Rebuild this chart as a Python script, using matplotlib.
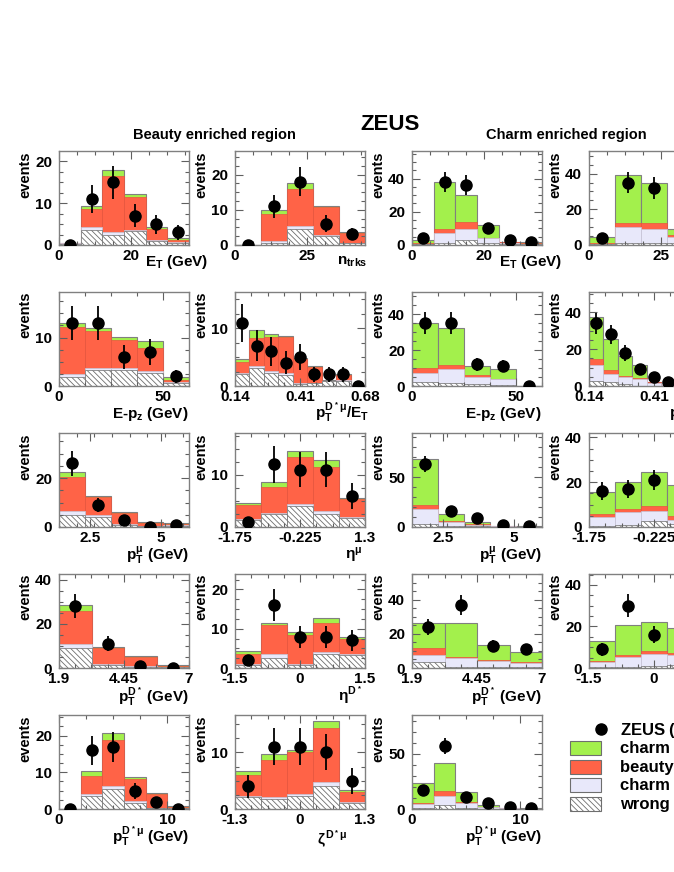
import matplotlib
matplotlib.use('Agg')
import matplotlib.pyplot as plt
import numpy as np
from matplotlib.ticker import FixedLocator, FixedFormatter
from matplotlib.patches import Rectangle

plt.rcParams['font.family'] = ['Liberation Sans', 'DejaVu Sans']
plt.rcParams['font.weight'] = 'bold'
plt.rcParams['mathtext.fontset'] = 'custom'
plt.rcParams['mathtext.rm'] = 'Liberation Sans:bold'
plt.rcParams['mathtext.it'] = 'Liberation Sans:bold'
plt.rcParams['mathtext.bf'] = 'Liberation Sans:bold'
plt.rcParams['hatch.linewidth'] = 0.6

GREEN = '#a3f04c'
RED = '#ff6347'
LAV = '#e8e8fa'
GREY = '#808080'

# stacked levels per bin: tot = top of green (charm), b = top of red (beauty),
# c2 = top of lavender (charm), wc = top of hatched (wrong charge)

# ---- beauty enriched region ----
bET_tot = [0.5, 9.4, 17.9, 12.1, 4.2, 1.6]
bET_b = [0.4, 8.7, 16.4, 11.5, 3.9, 1.2]
bET_c2 = [0.4, 4.4, 3.2, 3.7, 1.2, 0.7]
bET_wc = [0.3, 3.7, 2.4, 3.25, 1.0, 0.55]
bET_data = [0, 11, 15, 7, 5, 3]
bET_err = [0, 3.3, 3.9, 2.7, 2.3, 1.7]

bNT_tot = [0.1, 9.9, 17.6, 11.0, 3.8]
bNT_b = [0.1, 8.8, 15.9, 10.7, 3.3]
bNT_c2 = [0.05, 1.2, 5.5, 2.8, 0.66]
bNT_wc = [0.05, 0.7, 4.5, 2.5, 0.5]
bNT_data = [0, 11, 18, 6, 3]
bNT_err = [0, 3.3, 4.2, 2.4, 1.7]

bEPZ_tot = [13.1, 12.0, 10.1, 9.3, 1.8]
bEPZ_b = [12.2, 11.4, 9.5, 7.9, 1.15]
bEPZ_c2 = [2.4, 3.7, 3.7, 3.1, 0.8]
bEPZ_wc = [1.8, 3.4, 3.3, 2.7, 0.55]
bEPZ_data = [13, 13, 6, 7, 2]
bEPZ_err = [3.6, 3.6, 2.4, 2.6, 1.3]

bRAT_tot = [4.6, 9.7, 9.1, 8.7, 4.8, 3.5, 1.0, 2.1, 0.2]
bRAT_b = [4.1, 8.3, 8.5, 8.45, 4.6, 3.3, 0.9, 1.95, 0.15]
bRAT_c2 = [2.3, 3.5, 2.6, 2.2, 0.45, 0.6, 0.85, 1.0, 0.1]
bRAT_wc = [2.1, 3.1, 2.2, 1.9, 0.35, 0.45, 0.8, 0.9, 0.05]
bRAT_data = [11, 7, 6, 4, 5, 2, 2, 2, 0]
bRAT_err = [3.3, 2.7, 2.5, 2.0, 2.2, 1.3, 1.3, 1.3, 0]

bPTMU_tot = [22.3, 12.5, 6.0, 1.9, 1.6]
bPTMU_b = [20.4, 12.1, 5.7, 1.6, 1.2]
bPTMU_c2 = [6.4, 4.8, 1.4, 0.5, 0.7]
bPTMU_wc = [5.0, 4.1, 1.0, 0.3, 0.55]
bPTMU_data = [26, 9, 3, 0, 1]
bPTMU_err = [5.2, 3.0, 1.7, 0, 1.0]

bETAMU_tot = [4.6, 8.6, 14.5, 12.9, 5.6]
bETAMU_b = [4.2, 7.6, 13.5, 11.5, 5.35]
bETAMU_c2 = [1.5, 2.7, 4.5, 3.0, 1.9]
bETAMU_wc = [1.3, 2.4, 4.1, 2.5, 1.65]
bETAMU_data = [1, 12, 11, 11, 6]
bETAMU_err = [1.0, 3.5, 3.3, 3.3, 2.5]

bPTD_tot = [28.6, 9.5, 5.3, 1.35]
bPTD_b = [25.9, 9.0, 4.8, 1.05]
bPTD_c2 = [11.0, 2.0, 0.75, 0.45]
bPTD_wc = [9.2, 1.5, 0.45, 0.3]
bPTD_data = [28, 11, 1, 0]
bPTD_err = [5.3, 3.3, 1.0, 0]

bETAD_tot = [4.4, 11.4, 9.2, 12.7, 7.85]
bETAD_b = [3.6, 11.0, 8.3, 11.4, 7.5]
bETAD_c2 = [0.9, 3.6, 1.0, 4.1, 3.5]
bETAD_wc = [0.75, 2.5, 0.85, 3.5, 3.2]
bETAD_data = [2, 16, 8, 8, 7]
bETAD_err = [1.4, 4.0, 2.8, 2.8, 2.6]

bPTDM_tot = [0, 10.4, 20.6, 8.6, 4.35, 0.7]
bPTDM_b = [0, 9.05, 18.8, 8.3, 4.1, 0.55]
bPTDM_c2 = [0, 4.2, 6.15, 2.1, 0.2, 0.3]
bPTDM_wc = [0, 3.6, 5.5, 1.6, 0.15, 0.2]
bPTDM_data = [0, 16, 17, 5, 2, 0]
bPTDM_err = [0, 4.0, 4.1, 2.2, 1.4, 0]

bZETA_tot = [6.65, 9.75, 10.5, 15.6, 3.4]
bZETA_b = [6.05, 8.7, 10.0, 14.3, 3.05]
bZETA_c2 = [2.35, 2.1, 2.6, 4.7, 1.2]
bZETA_wc = [2.1, 1.8, 2.25, 4.0, 1.0]
bZETA_data = [4, 11, 11, 10, 5]
bZETA_err = [2.0, 3.3, 3.3, 3.2, 2.3]

# ---- charm enriched region ----
cET_tot = [3, 38, 30.4, 12, 2, 1.6]
cET_b = [1, 9.6, 13.6, 4.2, 1.8, 1.0]
cET_c2 = [0.8, 7.4, 9.6, 4.0, 1.4, 0.9]
cET_wc = [0.4, 1.4, 3, 1, 0.6, 0.4]
cET_data = [4, 38, 36, 10, 3, 2]
cET_err = [2, 6.2, 6, 3.2, 1.7, 1.4]

cNT_tot = [4.6, 39.5, 34.8, 9, 3]
cNT_b = [0.9, 12.5, 12.1, 5.5, 2]
cNT_c2 = [0.8, 10.2, 8.8, 4.5, 1.5]
cNT_wc = [0.3, 1.3, 1.3, 1, 0.5]
cNT_data = [4, 35, 32, 10, 3]
cNT_err = [2, 6, 6, 3.2, 1.7]

cEPZ_tot = [35.2, 32.1, 11.4, 9.2, 0.2]
cEPZ_b = [10.1, 11.7, 5.9, 4.0, 0.15]
cEPZ_c2 = [7.3, 9.5, 4.8, 3.7, 0.1]
cEPZ_wc = [2.2, 1.8, 1.1, 0.4, 0.05]
cEPZ_data = [35, 35, 12, 11, 0]
cEPZ_err = [5.9, 5.9, 3.5, 3.3, 0]

cRAT_tot = [37.5, 25.3, 16.5, 11.5, 2.4, 0.6, 0.3, 0.2, 0.1]
cRAT_b = [14.7, 8.9, 5.3, 4.4, 2.0, 0.5, 0.2, 0.1, 0.05]
cRAT_c2 = [11.5, 6.4, 4.7, 3.8, 1.6, 0.4, 0.2, 0.1, 0.05]
cRAT_wc = [2.5, 2.0, 1.1, 0.2, 0.1, 0.05, 0, 0, 0]
cRAT_data = [34, 28, 18, 9, 5, 2, 0, 0, 0]
cRAT_err = [5.8, 5.3, 4.2, 3.0, 2.2, 1.4, 0, 0, 0]

cPTMU_tot = [68, 13, 5.3, 1.3, 0.6]
cPTMU_b = [22.3, 5.7, 2.7, 0.9, 0.4]
cPTMU_c2 = [18, 4.7, 2.0, 0.7, 0.3]
cPTMU_wc = [3.3, 1.3, 0.6, 0.3, 0.2]
cPTMU_data = [63, 16, 9, 2, 1]
cPTMU_err = [8, 4, 3, 1.4, 1]

cETAMU_tot = [15.5, 19.9, 24.5, 18.8, 12]
cETAMU_b = [5.7, 7.9, 9.4, 5.1, 4]
cETAMU_c2 = [4.5, 6.7, 7.3, 3.1, 3]
cETAMU_wc = [0.45, 0.75, 2.5, 1.3, 1]
cETAMU_data = [16, 17, 21, 20, 12]
cETAMU_err = [4, 4.1, 4.6, 4.5, 3.5]

cPTD_tot = [26.3, 26.7, 13.5, 9.2]
cPTD_b = [11.7, 6.4, 4.9, 3.3]
cPTD_c2 = [7.8, 5.8, 3.9, 2.9]
cPTD_wc = [3.3, 0.6, 0.4, 0.4]
cPTD_data = [24, 37, 13, 11]
cPTD_err = [4.9, 6.1, 3.6, 3.3]

cETAD_tot = [13.2, 20.9, 22.2, 19.1, 14]
cETAD_b = [3.5, 6.3, 8.3, 7.4, 5]
cETAD_c2 = [2.7, 5.1, 6.7, 6.1, 4]
cETAD_wc = [0.3, 0.5, 1.0, 1.3, 1]
cETAD_data = [9, 30, 16, 20, 12]
cETAD_err = [3, 5.5, 4, 4.5, 3.5]

cPTDM_tot = [23.5, 41.6, 15.4, 3.6, 0.9, 0.6]
cPTDM_b = [5.4, 16.6, 6.3, 1.8, 0.6, 0.4]
cPTDM_c2 = [4.2, 12, 5.4, 1.5, 0.5, 0.3]
cPTDM_wc = [0.9, 3.9, 1.2, 0.3, 0.2, 0.1]
cPTDM_data = [17, 57, 11, 5, 2, 1]
cPTDM_err = [4, 7.5, 3.3, 2.2, 1.4, 1]

# axis ranges / ticks
ET_x = (0, 36, [0, 20], ['0', '20'], 5)
NT_x = (0, 45, [0, 25], ['0', '25'], 6.25)
EPZ_x = (0, 62.5, [0, 50], ['0', '50'], 12.5)
RAT_x = (0.14, 0.68, [0.14, 0.41, 0.68], ['0.14', '0.41', '0.68'], 0.0675)
PTMU_x = (1.4, 6.0, [2.5, 5], ['2.5', '5'], 0.625)
ETAMU_x = (-1.75, 1.3, [-1.75, -0.225, 1.3], ['-1.75', '-0.225', '1.3'], 0.38125)
PTD_x = (1.9, 7.0, [1.9, 4.45, 7], ['1.9', '4.45', '7'], 0.6375)
ETAD_x = (-1.5, 1.5, [-1.5, 0, 1.5], ['-1.5', '0', '1.5'], 0.375)
PTDM_x = (0, 12, [0, 10], ['0', '10'], 2.5)
ZETA_x = (-1.3, 1.3, [-1.3, 0, 1.3], ['-1.3', '0', '1.3'], 0.325)

L_ET = r'$E_T$ (GeV)'
L_NT = r'$n_{trks}$'
L_EPZ = r'E-$p_z$ (GeV)'
L_RAT = r'$p_T^{D^*\mu}/E_T$'
L_PTMU = r'$p_T^{\mu}$ (GeV)'
L_ETAMU = r'$\eta^{\mu}$'
L_PTD = r'$p_T^{D^*}$ (GeV)'
L_ETAD = r'$\eta^{D^*}$'
L_PTDM = r'$p_T^{D^*\mu}$ (GeV)'
L_ZETA = r'$\zeta^{D^*\mu}$'

# (col, row, xaxis, stack, ytop, yticks, yminor, xlabel, label right px, label y px)
panels = [
    (0, 0, ET_x, (bET_tot, bET_b, bET_c2, bET_wc, bET_data, bET_err), 22.5, [0, 10, 20], 2.5, L_ET, 208, 262),
    (1, 0, NT_x, (bNT_tot, bNT_b, bNT_c2, bNT_wc, bNT_data, bNT_err), 26.7, [0, 10, 20], 2.5, L_NT, 367, 262),
    (2, 0, ET_x, (cET_tot, cET_b, cET_c2, cET_wc, cET_data, cET_err), 56.6, [0, 20, 40], 5, L_ET, 562, 262),
    (3, 0, NT_x, (cNT_tot, cNT_b, cNT_c2, cNT_wc, cNT_data, cNT_err), 52.7, [0, 20, 40], 5, L_NT, 721, 262),
    (0, 1, EPZ_x, (bEPZ_tot, bEPZ_b, bEPZ_c2, bEPZ_wc, bEPZ_data, bEPZ_err), 19.4, [0, 10], 2.5, L_EPZ, 189, 414),
    (1, 1, RAT_x, (bRAT_tot, bRAT_b, bRAT_c2, bRAT_wc, bRAT_data, bRAT_err), 16.3, [0, 10], 2.5, L_RAT, 369, 413),
    (2, 1, EPZ_x, (cEPZ_tot, cEPZ_b, cEPZ_c2, cEPZ_wc, cEPZ_data, cEPZ_err), 52.3, [0, 20, 40], 5, L_EPZ, 542, 414),
    (3, 1, RAT_x, (cRAT_tot, cRAT_b, cRAT_c2, cRAT_wc, cRAT_data, cRAT_err), 51.0, [0, 20, 40], 5, L_RAT, 723, 413),
    (0, 2, PTMU_x, (bPTMU_tot, bPTMU_b, bPTMU_c2, bPTMU_wc, bPTMU_data, bPTMU_err), 38.4, [0, 20], 5, L_PTMU, 189, 555),
    (1, 2, ETAMU_x, (bETAMU_tot, bETAMU_b, bETAMU_c2, bETAMU_wc, bETAMU_data, bETAMU_err), 18.0, [0, 10], 2.5, L_ETAMU, 363, 555),
    (2, 2, PTMU_x, (cPTMU_tot, cPTMU_b, cPTMU_c2, cPTMU_wc, cPTMU_data, cPTMU_err), 94.0, [0, 50], 10, L_PTMU, 542, 555),
    (3, 2, ETAMU_x, (cETAMU_tot, cETAMU_b, cETAMU_c2, cETAMU_wc, cETAMU_data, cETAMU_err), 42.0, [0, 20, 40], 5, L_ETAMU, 717, 555),
    (0, 3, PTD_x, (bPTD_tot, bPTD_b, bPTD_c2, bPTD_wc, bPTD_data, bPTD_err), 42.5, [0, 20, 40], 5, L_PTD, 189, 697),
    (1, 3, ETAD_x, (bETAD_tot, bETAD_b, bETAD_c2, bETAD_wc, bETAD_data, bETAD_err), 23.9, [0, 10, 20], 2.5, L_ETAD, 363, 695),
    (2, 3, PTD_x, (cPTD_tot, cPTD_b, cPTD_c2, cPTD_wc, cPTD_data, cPTD_err), 55.2, [0, 20, 40], 5, L_PTD, 542, 697),
    (3, 3, ETAD_x, (cETAD_tot, cETAD_b, cETAD_c2, cETAD_wc, cETAD_data, cETAD_err), 45.3, [0, 20, 40], 5, L_ETAD, 717, 695),
    (0, 4, PTDM_x, (bPTDM_tot, bPTDM_b, bPTDM_c2, bPTDM_wc, bPTDM_data, bPTDM_err), 25.6, [0, 10, 20], 2.5, L_PTDM, 189, 837),
    (1, 4, ZETA_x, (bZETA_tot, bZETA_b, bZETA_c2, bZETA_wc, bZETA_data, bZETA_err), 16.6, [0, 10], 2.5, L_ZETA, 347, 839),
    (2, 4, PTDM_x, (cPTDM_tot, cPTDM_b, cPTDM_c2, cPTDM_wc, cPTDM_data, cPTDM_err), 85.2, [0, 50], 10, L_PTDM, 542, 837),
]

W, H = 674, 872
AW, AH = 130, 94
COL_X = [59, 235, 412, 589]
ROW_Y = [151, 292, 433, 574, 715]

fig = plt.figure(figsize=(W / 100, H / 100), dpi=100)


def draw_panel(col, row, xax, stack, ytop, yticks, yminor, xlabel, lx, ly):
    ax = fig.add_axes([COL_X[col] / W, 1 - (ROW_Y[row] + AH) / H, AW / W, AH / H])
    lo, hi, xt, xtl, xminor = xax
    tot, b, c2, wc, data, err = stack
    edges = np.linspace(lo, hi, len(tot) + 1)
    w = edges[1] - edges[0]
    ax.bar(edges[:-1], tot, width=w, align='edge', color=GREEN, edgecolor=GREY, linewidth=0.8)
    ax.bar(edges[:-1], b, width=w, align='edge', color=RED, edgecolor='#e8553e', linewidth=0.5)
    ax.bar(edges[:-1], c2, width=w, align='edge', color=LAV, edgecolor='#c4c4d8', linewidth=0.5)
    ax.bar(edges[:-1], wc, width=w, align='edge', color='white', edgecolor='#6e6e6e',
           hatch='\\\\\\\\\\\\', linewidth=0.5)
    centers = 0.5 * (edges[:-1] + edges[1:])
    ax.errorbar(centers, data, yerr=err, fmt='o', color='black', ms=8,
                elinewidth=1.3, capsize=0, zorder=5)

    ax.set_xlim(lo, hi)
    ax.set_ylim(0, ytop)
    ax.xaxis.set_major_locator(FixedLocator(xt))
    ax.xaxis.set_major_formatter(FixedFormatter(xtl))
    ax.xaxis.set_minor_locator(FixedLocator(np.arange(lo, hi + 1e-9, xminor)))
    ax.yaxis.set_major_locator(FixedLocator(yticks))
    ax.yaxis.set_major_formatter(FixedFormatter([str(v) for v in yticks]))
    ax.yaxis.set_minor_locator(FixedLocator(np.arange(0, ytop, yminor)))
    ax.tick_params(which='both', direction='in', top=True, right=True,
                   color='#606060', width=0.8, labelsize=11)
    ax.tick_params(which='major', length=6)
    ax.tick_params(which='minor', length=3)
    ax.tick_params(axis='x', pad=3)
    ax.tick_params(axis='y', pad=5)
    for s in ax.spines.values():
        s.set_color(GREY)
        s.set_linewidth(1.0)
    ax.text(-34 / AW, 1.0, 'events', transform=ax.transAxes, rotation=90,
            ha='center', va='top', fontsize=10.5, fontweight='bold')
    fig.text(lx / W, 1 - ly / H, xlabel, ha='right', va='center', fontsize=11, fontweight='bold')


for p in panels:
    draw_panel(*p)

fig.text(390 / W, 1 - 124 / H, 'ZEUS', ha='center', va='center', fontsize=16, fontweight='bold')
fig.text(214 / W, 1 - 135 / H, 'Beauty enriched region', ha='center', va='center',
         fontsize=10.5, fontweight='bold')
fig.text(566 / W, 1 - 135 / H, 'Charm enriched region', ha='center', va='center',
         fontsize=10.5, fontweight='bold')

# legend
leg = fig.add_axes([0, 0, 1, 1])
leg.set_xlim(0, W)
leg.set_ylim(H, 0)
leg.axis('off')
leg.plot([601], [729], 'o', color='black', ms=8)
leg.text(620, 730, 'ZEUS (114 pb$^{-1}$)', va='center', ha='left', fontsize=12)
leg_items = [(GREEN, None, 'charm (MC)'), (RED, None, 'beauty (MC)'),
             (LAV, None, 'charm from b'), ('white', '\\\\\\\\\\\\', 'wrong charge')]
for i, (fc, h, txt) in enumerate(leg_items):
    y0 = 741 + i * 18.7
    leg.add_patch(Rectangle((570, y0), 31, 14, facecolor=fc, edgecolor='#6e6e6e',
                            hatch=h, linewidth=0.8))
    leg.text(620, y0 + 7.5, txt, va='center', ha='left', fontsize=12)

fig.savefig('out.png', dpi=100)
